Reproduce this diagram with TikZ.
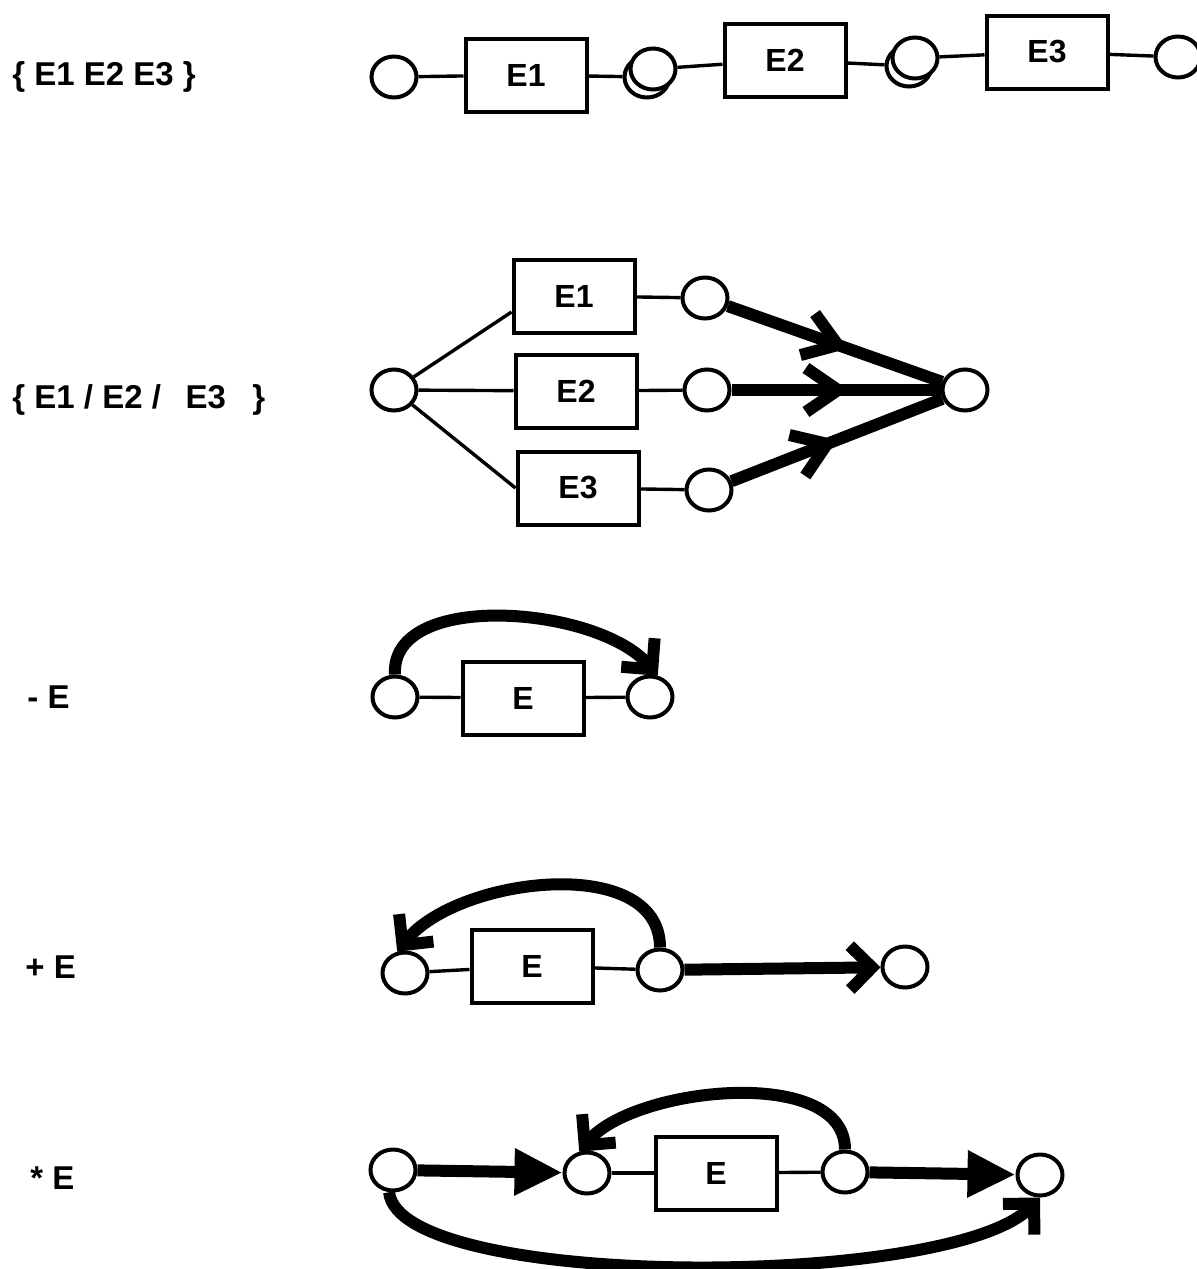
\documentclass[tikz,border=0pt]{standalone}
\usepackage{fontspec}
\setmainfont{Liberation Sans}
\usetikzlibrary{shapes.geometric,arrows.meta,decorations.markings}
\tikzset{
  chevron/.tip={Straight Barb[length=16pt,width=22pt,line join=miter]},
  hook/.tip={Straight Barb[length=11pt,width=22pt,line join=miter]},
  wedge/.tip={Triangle[length=24pt,width=22pt]},
}
\begin{document}
\begin{tikzpicture}[x=0.5pt,y=0.5pt,
  state/.style={ellipse,draw,line width=2pt,minimum width=22.5pt,minimum height=20.5pt,inner sep=0pt,fill=white},
  expr/.style={rectangle,draw,line width=2pt,minimum width=60.5pt,minimum height=36.5pt,inner sep=0pt,font=\bfseries\fontsize{16}{18}\selectfont},
  caption/.style={anchor=west,inner sep=0pt,font=\bfseries\fontsize{16.5}{19}\selectfont},
  link/.style={line width=1.7pt},
  flow/.style={line width=6pt},
  midchevron/.style={postaction={decorate},decoration={markings,mark=at position #1 with {\arrow{chevron}}}},
]
\useasboundingbox (0,0) rectangle (1197,-1269);

% captions
\node[caption] (k1) at (12,-77) {\{ E1 E2 E3 \}};
\node[caption] (k2) at (12,-400) {\{ E1 / E2 /\hspace{0.75em}E3\hspace{0.8em}\}};
\node[caption] (k3) at (27,-697) {- E};
\node[caption] (k4) at (25,-967) {+ E};
\node[caption] (k5) at (30,-1178) {* E};

% sequence
\node[state] (a0) at (394,-77) {};
\node[expr] (r1) at (526,-75) {E1};
\node[state] (a1b) at (647,-77) {};
\node[state] (a1) at (653,-69) {};
\node[expr] (r2) at (785,-60) {E2};
\node[state] (a2b) at (909,-66) {};
\node[state] (a2) at (915,-58) {};
\node[expr] (r3) at (1047,-52) {E3};
\node[state] (a3) at (1178,-57) {};
\draw[link] (a0) -- (r1);
\draw[link] (r1) -- (a1b);
\draw[link] (a1) -- (r2);
\draw[link] (r2) -- (a2b);
\draw[link] (a2) -- (r3);
\draw[link] (r3) -- (a3);

% alternatives
\node[state] (s) at (394,-390) {};
\node[expr] (b1) at (574,-296) {E1};
\node[expr] (b2) at (576,-391) {E2};
\node[expr] (b3) at (578,-488) {E3};
\node[state] (o1) at (705,-298) {};
\node[state] (o2) at (707,-390) {};
\node[state] (o3) at (709,-490) {};
\node[state] (t) at (965,-390) {};
\draw[link] (s) -- ([yshift=-8pt]b1.west);
\draw[link] (s) -- (b2);
\draw[link] (s) -- (b3.west);
\draw[link] (b1) -- (o1);
\draw[link] (b2) -- (o2);
\draw[link] (b3) -- (o3);
\draw[flow,midchevron=0.56] (o1) -- (t);
\draw[flow,midchevron=0.56] (o2) -- (t);
\draw[flow,midchevron=0.5] (o3) -- (t);

% optional
\node[state] (p) at (395,-697) {};
\node[expr] (e3) at (523,-698) {E};
\node[state] (q) at (650,-697) {};
\draw[link] (p) -- (e3);
\draw[link] (e3) -- (q);
\draw[flow,-{hook}] (p.north) .. controls +(-5,85) and +(-60,70) .. (q.70);

% one or more
\node[state] (u) at (405,-973) {};
\node[expr] (e4) at (532,-966) {E};
\node[state] (v) at (660,-970) {};
\node[state] (w) at (905,-967) {};
\draw[link] (u) -- (e4);
\draw[link] (e4) -- (v);
\draw[flow,-{hook}] (v) -- (w);
\draw[flow,-{hook}] (v.north) .. controls +(0,95) and +(60,75) .. (u.110);

% zero or more
\node[state] (a) at (393,-1170) {};
\node[state] (b) at (587,-1173) {};
\node[expr] (e5) at (716,-1173) {E};
\node[state] (c) at (845,-1172) {};
\node[state] (d) at (1040,-1175) {};
\draw[link] (b) -- (e5);
\draw[link] (e5) -- (c);
\draw[flow,-{wedge}] (a) -- (b);
\draw[flow,-{wedge}] (c) -- (d);
\draw[flow,-{hook}] (c.north) .. controls +(0,85) and +(55,65) .. (b.110);
\draw[flow,-{hook}] (a.260) .. controls +(10,-98) and +(-90,-92) .. (d.south);
\end{tikzpicture}
\end{document}
